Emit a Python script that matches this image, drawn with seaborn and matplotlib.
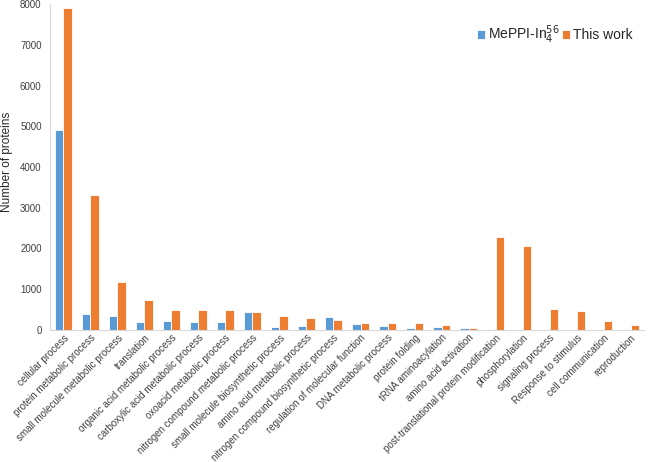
import matplotlib
matplotlib.use("Agg")
import matplotlib.pyplot as plt
import numpy as np
import pandas as pd
import seaborn as sns

categories = [
    "cellular process", "protein metabolic process", "small molecule metabolic process",
    "translation", "organic acid metabolic process", "carboxylic acid metabolic process",
    "oxoacid metabolic process", "nitrogen compound metabolic process",
    "small molecule biosynthetic process", "amino acid metabolic process",
    "nitrogen compound biosynthetic process", "regulation of molecular function",
    "DNA metabolic process", "protein folding", "tRNA aminoacylation",
    "amino acid activation", "post-translational protein modification",
    "phosphorylation", "signaling process", "Response to stimulus",
    "cell communication", "reproduction",
]
meppi = [4920, 400, 330, 200, 210, 190, 190, 440, 60, 100, 320, 150,
         100, 55, 75, 40, 0, 0, 0, 0, 0, 0]
this_work = [7900, 3320, 1170, 730, 480, 480, 480, 440, 350, 290, 245, 180,
             180, 180, 115, 55, 2280, 2070, 515, 475, 220, 130]
series = ["MePPI-In$_4^{56}$", "This work"]
colors = ["#5B9BD5", "#ED7D31"]

df = pd.DataFrame({
    "category": categories * 2,
    "value": meppi + this_work,
    "series": [series[0]] * len(categories) + [series[1]] * len(categories),
})

sns.set_style("white")
plt.rcParams["font.family"] = ["Liberation Sans", "DejaVu Sans"]

fig = plt.figure(figsize=(6.48, 4.62), dpi=100)
ax = fig.add_axes([0.077, 0.286, 0.917, 0.705])

sns.barplot(data=df, x="category", y="value", hue="series", order=categories,
            hue_order=series, palette=colors, width=0.62, saturation=1,
            edgecolor="white", linewidth=0.6, ax=ax)

ax.set_ylim(0, 8000)
ax.set_yticks(range(0, 8001, 1000))
ax.set_xlim(-0.5, len(categories) - 0.5)
ax.tick_params(axis="y", labelsize=7, length=0, pad=6, colors="#404040")
ax.tick_params(axis="x", labelsize=7, length=0, pad=2, colors="#404040")
plt.setp(ax.get_xticklabels(), rotation=45, ha="right", rotation_mode="anchor")
ax.set_xticks(np.arange(-0.5, len(categories), 1), minor=True)
ax.tick_params(axis="x", which="minor", length=3, color="#D9D9D9", width=0.6)
ax.set_xlabel("")
ax.set_ylabel("")
fig.text(0.011, 0.649, "Number of proteins", rotation=90, ha="center", va="center",
         fontsize=8.5, color="#262626")

sns.despine(ax=ax)
for side in ["left", "bottom"]:
    ax.spines[side].set_color("#D9D9D9")
    ax.spines[side].set_linewidth(0.8)

ax.legend(loc="upper right", bbox_to_anchor=(0.995, 0.965), ncol=2, frameon=False,
          fontsize=10, handlelength=0.6, handleheight=0.6, handletextpad=0.2,
          columnspacing=0.2, borderaxespad=0.2)

fig.savefig("out.png", dpi=100)
